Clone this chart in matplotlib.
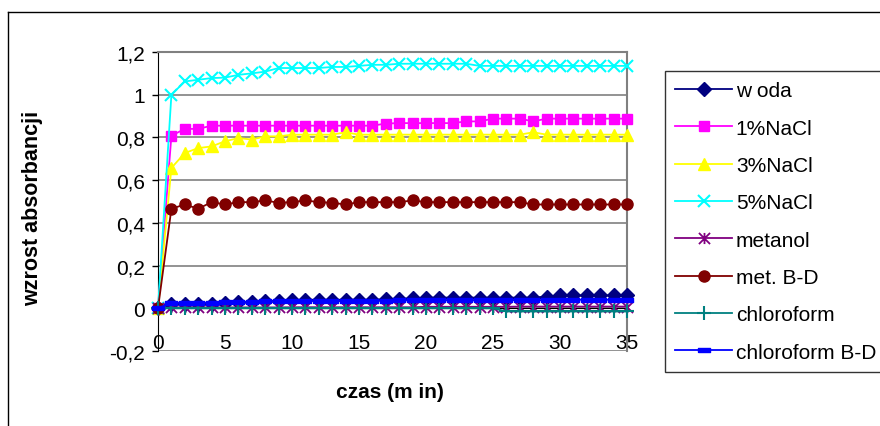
import matplotlib
matplotlib.use("Agg")
import matplotlib.pyplot as plt
from matplotlib.lines import Line2D
from matplotlib.path import Path
import numpy as np

plt.rcParams['font.family'] = ['Liberation Sans', 'DejaVu Sans']

# ---- data ----
czas = list(range(0, 36))

woda = [0, 0.022, 0.022, 0.022, 0.022, 0.024, 0.03, 0.03, 0.032, 0.033,
        0.038, 0.04, 0.04, 0.04, 0.04, 0.04, 0.04, 0.042, 0.045, 0.046,
        0.05, 0.05, 0.05, 0.05, 0.05, 0.05, 0.05, 0.05, 0.05, 0.055,
        0.06, 0.06, 0.06, 0.06, 0.06, 0.062]
nacl1 = [0, 0.808, 0.84, 0.84, 0.855, 0.855, 0.855, 0.855, 0.855, 0.855,
         0.855, 0.855, 0.855, 0.855, 0.855, 0.855, 0.855, 0.865, 0.867, 0.867,
         0.867, 0.867, 0.867, 0.875, 0.875, 0.888, 0.888, 0.888, 0.875, 0.888,
         0.888, 0.888, 0.888, 0.888, 0.888, 0.888]
nacl3 = [0, 0.657, 0.727, 0.75, 0.758, 0.782, 0.797, 0.79, 0.805, 0.805,
         0.813, 0.813, 0.813, 0.813, 0.824, 0.813, 0.813, 0.813, 0.813, 0.813,
         0.813, 0.813, 0.813, 0.813, 0.813, 0.813, 0.813, 0.813, 0.824, 0.813,
         0.813, 0.813, 0.813, 0.813, 0.813, 0.813]
nacl5 = [0, 1.0, 1.062, 1.07, 1.078, 1.08, 1.093, 1.10, 1.108, 1.125,
         1.125, 1.125, 1.125, 1.13, 1.13, 1.135, 1.14, 1.14, 1.145, 1.145,
         1.145, 1.145, 1.145, 1.145, 1.135, 1.135, 1.135, 1.135, 1.135, 1.135,
         1.135, 1.135, 1.135, 1.135, 1.135, 1.135]
metanol = [0, 0.004, 0.004, 0.004, 0.004, 0.004, 0.004, 0.004, 0.004, 0.004,
           0.005, 0.005, 0.005, 0.005, 0.005, 0.005, 0.005, 0.005, 0.005, 0.005,
           0.007, 0.007, 0.007, 0.007, 0.007, 0.007, 0.007, 0.008, 0.008, 0.008,
           0.008, 0.008, 0.008, 0.008, 0.008, 0.008]
met_bd = [0, 0.466, 0.486, 0.466, 0.497, 0.486, 0.497, 0.497, 0.505, 0.494,
          0.497, 0.505, 0.497, 0.494, 0.486, 0.497, 0.497, 0.497, 0.497, 0.505,
          0.497, 0.497, 0.497, 0.497, 0.497, 0.497, 0.497, 0.497, 0.486, 0.486,
          0.486, 0.486, 0.486, 0.486, 0.486, 0.486]
chloroform = [0, 0, 0, 0, 0, 0, 0, 0, 0, 0,
              0, 0, 0, 0, 0, 0, 0, 0, 0, 0,
              0, 0, 0, 0, 0, 0, -0.015, -0.015, -0.015, -0.015,
              -0.015, -0.015, -0.015, -0.015, -0.015, -0.015]
chloroform_bd = [0, 0.026, 0.026, 0.026, 0.026, 0.028, 0.03, 0.03, 0.032, 0.033,
                 0.035, 0.035, 0.035, 0.035, 0.035, 0.036, 0.036, 0.036, 0.037, 0.037,
                 0.037, 0.037, 0.037, 0.037, 0.037, 0.038, 0.038, 0.038, 0.038, 0.038,
                 0.04, 0.04, 0.04, 0.04, 0.04, 0.04]

series_labels = ["w oda", "1%NaCl", "3%NaCl", "5%NaCl", "metanol",
                 "met. B-D", "chloroform", "chloroform B-D"]
y_ticks = [-0.2, 0, 0.2, 0.4, 0.6, 0.8, 1.0, 1.2]
y_tick_labels = ["-0,2", "0", "0,2", "0,4", "0,6", "0,8", "1", "1,2"]
x_ticks = [0, 5, 10, 15, 20, 25, 30, 35]
x_tick_labels = ["0", "5", "10", "15", "20", "25", "30", "35"]
x_title = "czas (m in)"
y_title = "wzrost absorbancji"

# ---- styles ----
dash_marker = [(-1, -0.4), (1, -0.4), (1, 0.4), (-1, 0.4), (-1, -0.4)]
star_marker = Path([(-1, -1), (1, 1), (-1, 1), (1, -1), (0, -1), (0, 1)],
                   [Path.MOVETO, Path.LINETO, Path.MOVETO, Path.LINETO,
                    Path.MOVETO, Path.LINETO])
styles = [
    dict(color="#000080", marker="D", ms=7),
    dict(color="#FF00FF", marker="s", ms=7),
    dict(color="#FFFF00", marker="^", ms=9),
    dict(color="#00FFFF", marker="x", ms=9, mew=1.5),
    dict(color="#800080", marker=star_marker, ms=8, mew=1.3),
    dict(color="#800000", marker="o", ms=8),
    dict(color="#008080", marker="+", ms=10, mew=1.5),
    dict(color="#0000FF", marker=dash_marker, ms=8),
]
all_series = [woda, nacl1, nacl3, nacl5, metanol, met_bd, chloroform, chloroform_bd]

W, H = 880, 427
fig = plt.figure(figsize=(W / 100, H / 100), dpi=100)
ax = fig.add_axes([158 / W, 1 - 352 / H, (627 - 158) / W, (352 - 53) / H])

for vals, lab, st in zip(all_series, series_labels, styles):
    ax.plot(czas, vals, label=lab, lw=1.3, clip_on=False, zorder=3,
            markeredgecolor=st["color"], markerfacecolor=st["color"], **st)

ax.spines["bottom"].set_position(("data", 0))
ax.set_xlim(0, 35)
ax.set_ylim(-0.2, 1.2)
ax.set_yticks(y_ticks)
ax.set_yticklabels(y_tick_labels)
ax.set_xticks(x_ticks)
ax.set_xticklabels(x_tick_labels)

ax.yaxis.grid(True, color="#808080", lw=1.2)
ax.set_axisbelow(True)
ax.spines["bottom"].set_color("black")
ax.spines["left"].set_color("black")
ax.spines["top"].set_color("#808080")
ax.spines["right"].set_color("#808080")
for s in ["top", "right"]:
    ax.spines[s].set_linewidth(1.5)
ax.tick_params(axis="y", direction="out", length=4.5, width=1, pad=5, labelsize=15)
ax.tick_params(axis="x", length=0, pad=17.5, labelsize=15)

fig.text(390 / W, 1 - 393 / H, x_title, fontsize=15, fontweight="bold",
         ha="center", va="center")
fig.text(33 / W, 1 - 208 / H, y_title, fontsize=15.5, fontweight="bold",
         ha="center", va="center", rotation=90)

leg = ax.legend(loc="upper left", bbox_to_anchor=(665 / W, 1 - 72 / H),
                bbox_transform=fig.transFigure, fontsize=15, frameon=True,
                fancybox=False, shadow=False, borderaxespad=0,
                handlelength=2.7, handletextpad=0.2, labelspacing=0.88,
                borderpad=0.5)
leg.get_frame().set_edgecolor("black")
leg.get_frame().set_linewidth(1.0)

# chart area border
fig.add_artist(Line2D([8 / W, 8 / W], [0, 1 - 13 / H], color="black", lw=1,
                      transform=fig.transFigure))
fig.add_artist(Line2D([8 / W, 1], [1 - 13 / H, 1 - 13 / H], color="black", lw=1,
                      transform=fig.transFigure))

fig.savefig("out.png", dpi=100, facecolor="white")
